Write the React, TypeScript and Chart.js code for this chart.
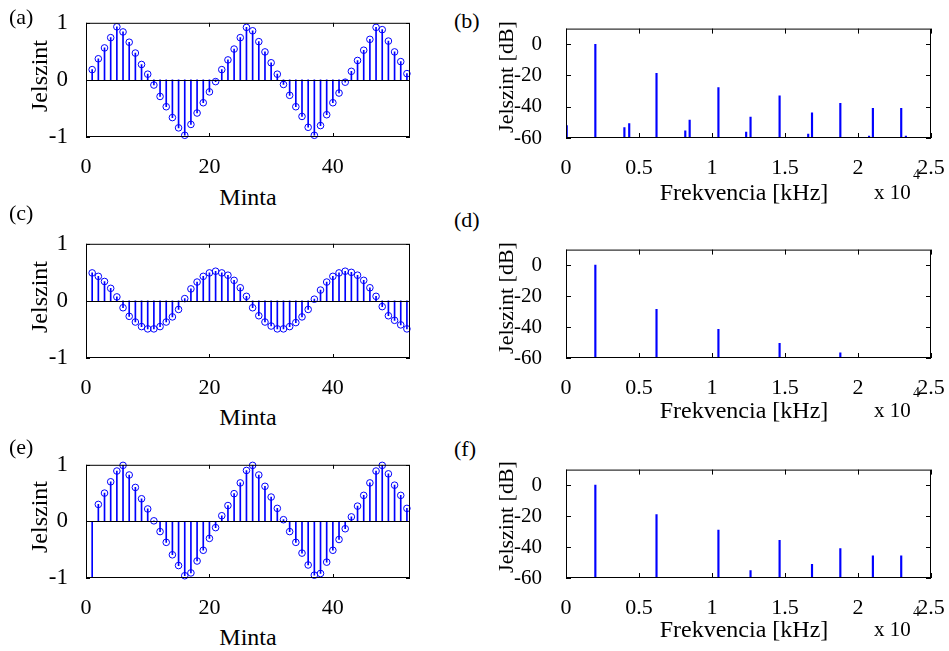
import React, { useEffect, useRef } from "react";
import { Chart, registerables } from "chart.js";

Chart.register(...registerables);

const FONT = '"Liberation Serif", "Times New Roman", Times, serif';
const BLUE = "#0000ff";

// ---- Left column: sampled signals (Minta 1..52) ----
const signalA = [
  0.18, 0.37, 0.56, 0.74, 0.93, 0.84, 0.66, 0.47, 0.27, 0.1,
  -0.09, -0.29, -0.47, -0.66, -0.84, -0.97, -0.78, -0.58, -0.4, -0.21,
  -0.03, 0.18, 0.35, 0.54, 0.74, 0.92, 0.86, 0.67, 0.49, 0.3,
  0.1, -0.08, -0.27, -0.47, -0.64, -0.83, -0.97, -0.8, -0.61, -0.4,
  -0.23, -0.04, 0.15, 0.34, 0.52, 0.71, 0.92, 0.88, 0.68, 0.49,
  0.32, 0.11,
];
const signalC = [
  0.49, 0.43, 0.34, 0.22, 0.07, -0.12, -0.27, -0.37, -0.45, -0.49,
  -0.49, -0.45, -0.37, -0.28, -0.15, 0.04, 0.21, 0.33, 0.43, 0.49,
  0.52, 0.49, 0.45, 0.36, 0.23, 0.08, -0.12, -0.26, -0.37, -0.44,
  -0.49, -0.49, -0.45, -0.38, -0.28, -0.15, 0.03, 0.19, 0.33, 0.43,
  0.49, 0.52, 0.5, 0.45, 0.36, 0.23, 0.08, -0.1, -0.26, -0.34,
  -0.42, -0.49,
];
const signalE = [
  -1.3, 0.3, 0.5, 0.7, 0.89, 0.99, 0.82, 0.6, 0.4, 0.22,
  0.01, -0.18, -0.37, -0.59, -0.78, -0.96, -0.91, -0.7, -0.51, -0.3,
  -0.11, 0.1, 0.28, 0.49, 0.68, 0.9, 0.99, 0.82, 0.62, 0.43,
  0.23, 0.03, -0.18, -0.37, -0.56, -0.77, -0.95, -0.92, -0.72, -0.51,
  -0.32, -0.13, 0.08, 0.27, 0.46, 0.68, 0.89, 0.99, 0.84, 0.64,
  0.46, 0.23,
];
const sampleTicks = [0, 20, 40];
const signalTicks = [-1, 0, 1];

// ---- Right column: spectra (Hz, dB) ----
const freqB = [50, 2010, 4000, 4330, 6200, 8170, 8470, 10440, 12340, 12640, 14630, 16590, 16850, 18790, 20760, 21020, 22960, 23280];
const levelB = [-52, 0, -53.4, -50.7, -18.7, -55.4, -48.6, -27.7, -56.2, -46.6, -33, -57.5, -43.9, -37.8, -58.7, -41, -41, -58.7];
const freqD = [2010, 6200, 10440, 14630, 18790];
const levelD = [0, -28.6, -41.5, -50.5, -56.6];
const freqF = [2010, 6200, 10440, 12640, 14630, 16850, 18790, 21020, 22960];
const levelF = [0, -19, -29, -55.2, -35.6, -51.2, -41, -45.7, -45.7];
const freqTicks = [0, 5000, 10000, 15000, 20000, 25000];
const levelTicks = [-60, -40, -20, 0];

const ML = 80, MT = 16, MR = 30, MB = 44;

type Area = { left: number; top: number; width: number; height: number };
type PanelSpec = { kind: "stem" | "spec"; area: Area; xs: number[]; ys: number[] };

const framePlugin = {
  id: "frame",
  afterDatasetsDraw(chart: any, _args: any, opts: any) {
    const { ctx, chartArea: a, scales } = chart;
    const xs = scales.x, ys = scales.y;
    const tl = opts.tickLen || 4;
    ctx.save();
    ctx.strokeStyle = "#000";
    ctx.lineWidth = 1;
    ctx.beginPath();
    if (opts.zeroLine) {
      const y0 = Math.round(ys.getPixelForValue(0)) + 0.5;
      ctx.moveTo(a.left, y0);
      ctx.lineTo(a.right, y0);
    }
    xs.ticks.forEach((t: any) => {
      const x = Math.round(xs.getPixelForValue(t.value)) + 0.5;
      ctx.moveTo(x, a.bottom);
      ctx.lineTo(x, a.bottom - tl);
      ctx.moveTo(x, a.top);
      ctx.lineTo(x, a.top + tl);
    });
    ys.ticks.forEach((t: any) => {
      const y = Math.round(ys.getPixelForValue(t.value)) + 0.5;
      ctx.moveTo(a.left, y);
      ctx.lineTo(a.left + tl, y);
      ctx.moveTo(a.right, y);
      ctx.lineTo(a.right - tl, y);
    });
    ctx.stroke();
    ctx.strokeRect(a.left + 0.5, a.top + 0.5, a.right - a.left - 1, a.bottom - a.top - 1);
    ctx.restore();
  },
};

function buildConfig(spec: PanelSpec): any {
  const isStem = spec.kind === "stem";
  const points = spec.xs.map((x, i) => ({ x, y: spec.ys[i] }));
  const datasets: any[] = [
    {
      type: "bar",
      data: points,
      backgroundColor: BLUE,
      borderWidth: 0,
      barThickness: isStem ? 1 : 1.5,
      grouped: false,
      ...(isStem ? {} : { base: -60 }),
    },
  ];
  if (isStem) {
    datasets.push({
      type: "line",
      data: points,
      showLine: false,
      pointRadius: 3.3,
      pointHoverRadius: 3.3,
      pointBorderWidth: 1,
      pointBorderColor: BLUE,
      pointBackgroundColor: "rgba(0,0,0,0)",
      clip: 5,
    });
  }
  const xTicks = isStem ? sampleTicks : freqTicks;
  const yTicks = isStem ? signalTicks : levelTicks;
  return {
    type: "bar",
    data: { datasets },
    plugins: [framePlugin],
    options: {
      responsive: false,
      maintainAspectRatio: false,
      animation: false,
      events: [],
      layout: { padding: { left: 0, top: MT, right: MR, bottom: 0 } },
      plugins: {
        legend: { display: false },
        tooltip: { enabled: false },
        frame: { tickLen: isStem ? 4 : 5, zeroLine: isStem },
      },
      scales: {
        x: {
          type: "linear",
          min: 0,
          max: isStem ? 52.5 : 25000,
          offset: false,
          grid: { display: false },
          border: { display: false },
          afterBuildTicks: (s: any) => {
            s.ticks = xTicks.map((v) => ({ value: v }));
          },
          afterFit: (s: any) => {
            s.height = MB;
          },
          ticks: {
            autoSkip: false,
            maxRotation: 0,
            color: "#000",
            padding: 9,
            font: { family: FONT, size: 22 },
            callback: (v: any) => (isStem ? String(v) : String(Number(v) / 10000)),
          },
        },
        y: {
          type: "linear",
          min: isStem ? -1 : -60,
          max: isStem ? 1 : 10,
          grid: { display: false },
          border: { display: false },
          afterBuildTicks: (s: any) => {
            s.ticks = yTicks.map((v) => ({ value: v }));
          },
          afterFit: (s: any) => {
            s.width = ML;
          },
          ticks: {
            autoSkip: false,
            color: "#000",
            padding: isStem ? 10 : 16,
            font: { family: FONT, size: isStem ? 23 : 21 },
            callback: (v: any) => String(v),
          },
        },
      },
    },
  };
}

function Panel({ spec }: { spec: PanelSpec }) {
  const ref = useRef<HTMLCanvasElement>(null);
  useEffect(() => {
    const chart = new Chart(ref.current as HTMLCanvasElement, buildConfig(spec));
    return () => chart.destroy();
  }, []);
  const { left, top, width, height } = spec.area;
  const W = width + ML + MR;
  const H = height + MT + MB;
  return (
    <canvas
      ref={ref}
      width={W}
      height={H}
      style={{ position: "absolute", left: left - ML, top: top - MT, width: W, height: H }}
    />
  );
}

function Txt(props: { x: number; base: number; size: number; text: string; center?: boolean }) {
  const { x, base, size, text, center } = props;
  return (
    <div
      style={{
        position: "absolute",
        left: x,
        top: base - 0.8375 * size,
        fontFamily: FONT,
        fontSize: size,
        lineHeight: 1,
        whiteSpace: "nowrap",
        color: "#000",
        transform: center ? "translateX(-50%)" : undefined,
      }}
    >
      {text}
    </div>
  );
}

function VTxt(props: { cx: number; cy: number; size: number; text: string }) {
  const { cx, cy, size, text } = props;
  return (
    <div
      style={{
        position: "absolute",
        left: cx,
        top: cy,
        fontFamily: FONT,
        fontSize: size,
        lineHeight: 1,
        whiteSpace: "nowrap",
        color: "#000",
        transform: "translate(-50%, -50%) rotate(-90deg)",
      }}
    >
      {text}
    </div>
  );
}

function Exp(props: { x: number; base: number }) {
  return (
    <>
      <Txt x={props.x} base={props.base} size={21} text="x 10" />
      <Txt x={props.x + 39} base={props.base - 20} size={14} text="4" />
    </>
  );
}

const idx = (arr: number[]) => arr.map((_, i) => i + 1);

const panels: PanelSpec[] = [
  { kind: "stem", area: { left: 86, top: 15, width: 324, height: 122 }, xs: idx(signalA), ys: signalA },
  { kind: "stem", area: { left: 86, top: 236, width: 324, height: 122 }, xs: idx(signalC), ys: signalC },
  { kind: "stem", area: { left: 86, top: 457, width: 324, height: 121 }, xs: idx(signalE), ys: signalE },
  { kind: "spec", area: { left: 566, top: 16, width: 365, height: 122 }, xs: freqB, ys: levelB },
  { kind: "spec", area: { left: 566, top: 237, width: 365, height: 121 }, xs: freqD, ys: levelD },
  { kind: "spec", area: { left: 566, top: 457, width: 365, height: 121 }, xs: freqF, ys: levelF },
];

export default function App() {
  return (
    <div
      style={{
        position: "absolute",
        left: 0,
        top: 0,
        width: 949,
        height: 651,
        background: "#fff",
        overflow: "hidden",
      }}
    >
      {panels.map((p, i) => (
        <Panel key={i} spec={p} />
      ))}

      <Txt x={9} base={24} size={22} text="(a)" />
      <Txt x={9} base={220} size={22} text="(c)" />
      <Txt x={9} base={454} size={22} text="(e)" />
      <Txt x={454} base={28} size={22} text="(b)" />
      <Txt x={454} base={227} size={22} text="(d)" />
      <Txt x={454} base={456} size={22} text="(f)" />

      <VTxt cx={39} cy={76} size={24} text="Jelszint" />
      <VTxt cx={39} cy={297} size={24} text="Jelszint" />
      <VTxt cx={39} cy={517} size={24} text="Jelszint" />
      <VTxt cx={506} cy={77} size={22} text="Jelszint [dB]" />
      <VTxt cx={506} cy={298} size={22} text="Jelszint [dB]" />
      <VTxt cx={506} cy={517} size={22} text="Jelszint [dB]" />

      <Txt x={248} base={205} size={24} text="Minta" center />
      <Txt x={248} base={425} size={24} text="Minta" center />
      <Txt x={248} base={645} size={24} text="Minta" center />

      <Txt x={744} base={200} size={24} text="Frekvencia [kHz]" center />
      <Txt x={744} base={418} size={24} text="Frekvencia [kHz]" center />
      <Txt x={744} base={637} size={24} text="Frekvencia [kHz]" center />

      <Exp x={874} base={200} />
      <Exp x={874} base={418} />
      <Exp x={874} base={637} />
    </div>
  );
}
